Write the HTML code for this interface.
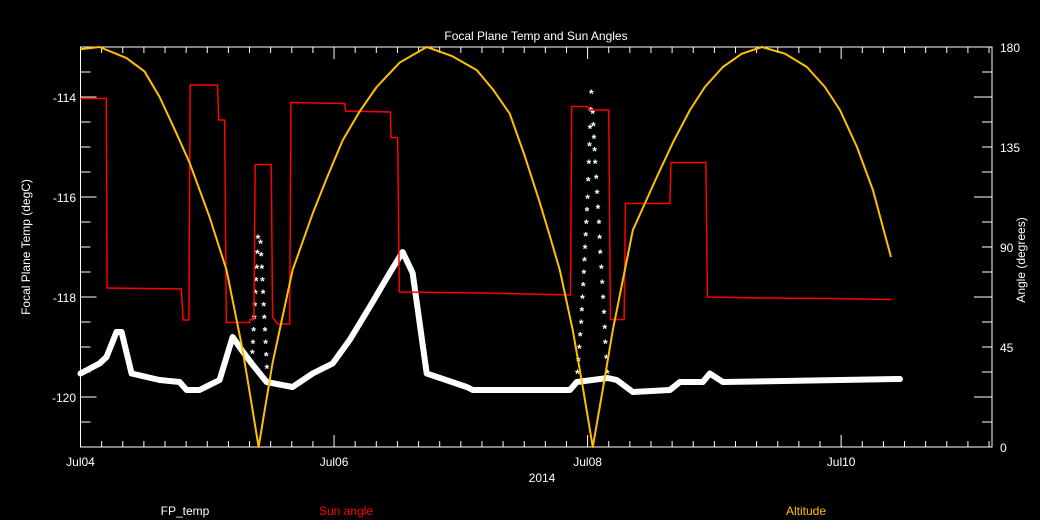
<!DOCTYPE html>
<html><head><meta charset="utf-8"><style>
html,body{margin:0;padding:0;background:#000;}
svg{display:block;}
text{font-family:"Liberation Sans",sans-serif;font-size:12px;}
</style></head><body>
<svg id="chart" width="1040" height="520" viewBox="0 0 1040 520" xmlns="http://www.w3.org/2000/svg">
<rect x="0" y="0" width="1040" height="520" fill="#000"/>
<text x="536" y="40" fill="#fff" font-size="14" text-anchor="middle">Focal Plane Temp and Sun Angles</text>
<text transform="translate(30,247) rotate(-90)" fill="#fff" text-anchor="middle">Focal Plane Temp (degC)</text>
<text transform="translate(1025,260) rotate(-90)" fill="#fff" text-anchor="middle">Angle (degrees)</text>
<text x="542" y="482" fill="#fff" text-anchor="middle">2014</text>
<text x="185" y="515" fill="#fff" text-anchor="middle">FP_temp</text>
<text x="346" y="515" fill="#ff0000" text-anchor="middle">Sun angle</text>
<text x="806" y="515" fill="#ffc000" text-anchor="middle">Altitude</text>
<g id="plot"></g>
</svg>
<script>
const xTickLabels=["Jul04","Jul06","Jul08","Jul10"];
const xTickDays=[0,2,4,6];
const yTickLabels=["-114","-116","-118","-120"];
const yTickValues=[-114,-116,-118,-120];
const y2TickLabels=["0","45","90","135","180"];
const y2TickValues=[0,45,90,135,180];
const altDays=[0,0.15,0.363,0.505,0.624,0.742,0.86,1.018,1.152,1.279,1.342,1.405,1.46,1.515,1.673,1.831,1.95,2.068,2.202,2.336,2.518,2.731,2.928,3.126,3.252,3.386,3.504,3.623,3.702,3.781,3.883,3.962,4.041,4.12,4.199,4.357,4.546,4.673,4.807,4.925,5.067,5.217,5.375,5.556,5.73,5.872,5.991,6.125,6.251,6.393];
const altValues=[179,180,175,169,157.5,143,128,103.5,79.6,43.6,22,0,19,37.8,79.6,105,122,138,151,162,173,180,176,169.6,161,150,131,110,95,79.6,52.6,27,0,26,52.6,97.6,121.5,137,151.6,162,171,177,180,177,171,162,151.6,135,115.6,85.5];
const sunDays=[0,0.203,0.21,0.795,0.81,0.855,0.865,1.081,1.09,1.137,1.15,1.334,1.34,1.368,1.378,1.505,1.515,1.555,1.65,1.66,2.084,2.09,2.444,2.45,2.502,2.515,3.163,3.715,3.865,3.875,4.002,4.01,4.167,4.18,4.288,4.298,4.649,4.658,4.933,4.945,5.359,5.925,6.399];
const sunValues=[-114.03,-114.03,-117.82,-117.84,-118.46,-118.46,-113.76,-113.76,-114.46,-114.46,-118.51,-118.51,-118.45,-118.45,-115.35,-115.35,-118.4,-118.54,-118.54,-114.11,-114.13,-114.28,-114.3,-114.81,-114.81,-117.9,-117.92,-117.95,-117.96,-114.19,-114.19,-114.26,-114.26,-118.45,-118.45,-116.13,-116.13,-115.31,-115.31,-118.0,-118.02,-118.03,-118.05];
const fpDays=[0,0.15,0.205,0.284,0.324,0.403,0.624,0.781,0.837,0.939,1.097,1.2,1.271,1.35,1.468,1.673,1.831,1.989,2.123,2.281,2.439,2.541,2.62,2.731,3.047,3.094,3.623,3.86,3.915,4.159,4.23,4.357,4.649,4.728,4.909,4.964,5.067,6.464];
const fpValues=[-119.53,-119.33,-119.2,-118.7,-118.7,-119.53,-119.66,-119.7,-119.86,-119.86,-119.66,-118.8,-119.06,-119.33,-119.7,-119.8,-119.53,-119.33,-118.86,-118.2,-117.52,-117.1,-117.52,-119.53,-119.8,-119.86,-119.86,-119.86,-119.7,-119.62,-119.66,-119.9,-119.86,-119.7,-119.7,-119.53,-119.7,-119.64];
const spikeDays=[1.35,1.355,1.36,1.365,1.37,1.375,1.38,1.385,1.39,1.395,1.40,1.42,1.425,1.43,1.435,1.44,1.445,1.45,1.455,1.46,1.465,1.47,3.92,3.927,3.935,3.942,3.95,3.955,3.96,3.965,3.97,3.975,3.98,3.985,3.99,3.995,4.0,4.005,4.01,4.015,4.02,4.025,4.03,4.04,4.045,4.05,4.055,4.06,4.068,4.075,4.082,4.09,4.095,4.1,4.108,4.115,4.122,4.13,4.135,4.14,4.148,4.155];
const spikeValues=[-119.3,-119.1,-118.9,-118.65,-118.4,-118.15,-117.9,-117.65,-117.4,-117.1,-116.8,-116.9,-117.15,-117.4,-117.65,-117.9,-118.15,-118.4,-118.65,-118.9,-119.15,-119.4,-119.5,-119.25,-119.0,-118.75,-118.5,-118.25,-118.0,-117.75,-117.5,-117.25,-117.0,-116.75,-116.5,-116.25,-116.0,-115.65,-115.3,-114.95,-114.6,-114.25,-113.9,-114.3,-114.55,-114.8,-115.05,-115.3,-115.6,-115.9,-116.2,-116.5,-116.8,-117.1,-117.4,-117.7,-118.0,-118.3,-118.6,-118.9,-119.2,-119.5];

const L=80.5,R=992,T=47,B=447,DAYS=7.19;
const xs=d=>L+(R-L)*d/DAYS;
const yT=v=>T+(-113-v)*(B-T)/8;
const yA=v=>B-(B-T)*v/180;
const NS="http://www.w3.org/2000/svg";
const g=document.getElementById('plot');
function mk(tag,attrs){const e=document.createElementNS(NS,tag);for(const k in attrs)e.setAttribute(k,attrs[k]);g.appendChild(e);return e;}

const box=mk('rect',{x:L,y:T,width:R-L,height:B-T,fill:'none',stroke:'#fff','stroke-width':1});


for(let i=0;i<=Math.floor(DAYS*6);i++){
  const x=xs(i/6);const len=(i%12===0)?12:6;
  const t1=mk('line',{x1:x,x2:x,y1:B,y2:B-len,stroke:'#fff'});
  
  
  const t2=mk('line',{x1:x,x2:x,y1:T,y2:T+len,stroke:'#fff'});
  
  
}
xTickDays.forEach((d,i)=>{
  const t=mk('text',{x:xs(d),y:466,fill:'#fff','text-anchor':'middle'});t.textContent=xTickLabels[i];
  
  
});
for(let v=-113.5;v>-121;v-=0.5){
  const len=(Math.abs(v%2)===0)?16:10;
  const t=mk('line',{x1:L,x2:L+len,y1:yT(v),y2:yT(v),stroke:'#fff'});
  
  
}
yTickValues.forEach((v,i)=>{
  const t=mk('text',{x:76,y:yT(v)+5,fill:'#fff','text-anchor':'end'});t.textContent=yTickLabels[i];
  
  
});
for(let k=1;k<16;k++){
  const v=k*11.25;const len=(k%4===2)?18:10;
  const t=mk('line',{x1:R,x2:R-len,y1:yA(v),y2:yA(v),stroke:'#fff'});
  
  
}
y2TickValues.forEach((v,i)=>{
  const t=mk('text',{x:1000,y:yA(v)+5,fill:'#fff','text-anchor':'start'});t.textContent=y2TickLabels[i];
  
  
});
const fp=mk('polyline',{points:fpDays.map((d,i)=>xs(d)+','+yT(fpValues[i])).join(' '),fill:'none',stroke:'#fff','stroke-width':6,'stroke-linejoin':'round','stroke-linecap':'round'});


spikeDays.forEach((d,i)=>{
  const t=mk('text',{x:xs(d),y:yT(spikeValues[i])+6,fill:'#fff','text-anchor':'middle','font-size':14,'font-weight':'bold'});t.textContent='*';
  
  
});
const sun=mk('polyline',{points:sunDays.map((d,i)=>xs(d)+','+yT(sunValues[i])).join(' '),fill:'none',stroke:'#ff0000','stroke-width':1.5});


const alt=mk('polyline',{points:altDays.map((d,i)=>xs(d)+','+yA(altValues[i])).join(' '),fill:'none',stroke:'#ffc000','stroke-width':2,'stroke-linejoin':'round'});


</script>
</body></html>
